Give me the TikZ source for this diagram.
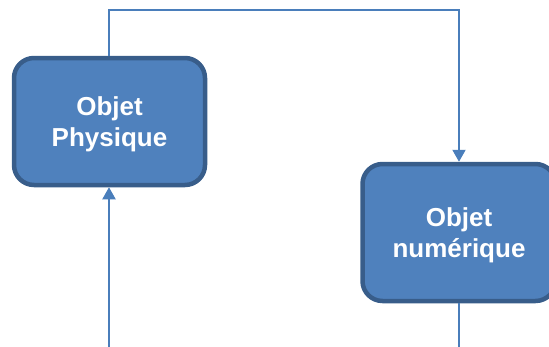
\documentclass[tikz,border=0pt]{standalone}
\usepackage{fontspec}
\setmainfont{Liberation Sans}
\usetikzlibrary{arrows.meta}
\definecolor{boxfill}{HTML}{4F81BD}
\definecolor{boxline}{HTML}{385D8A}
\definecolor{conn}{HTML}{4A7EBB}
\newcommand{\boxtext}[2]{\raisebox{-3pt}[\height][\depth]{\begin{tabular}{@{}c@{}}#1\\#2\end{tabular}}}
\begin{document}
\begin{tikzpicture}[x=1pt,y=-1pt,
  objbox/.style={draw=boxline, fill=boxfill, line width=4.5pt, rounded corners=20pt,
    text=white, font=\bfseries\fontsize{26}{31}\selectfont, align=center, inner sep=0pt},
  link/.style={draw=conn, line width=2pt},
  tip/.style={-{Triangle[width=13pt,length=12pt]}}]
\useasboundingbox (0,0) rectangle (549,346);
\clip (0,0) rectangle (549,346);
\node[objbox, minimum width=191pt, minimum height=127pt] (phys) at (109.5,121.5) {\boxtext{Objet}{Physique}};
\node[objbox, minimum width=193pt, minimum height=137pt] (num) at (459,232.5) {\boxtext{Objet}{numérique}};
\coordinate (bl) at (109,350);
\coordinate (br) at (459,350);
\draw[link, tip] (phys.north -| bl) |- (459,10) -- (num.north);
\draw[link] (num.south) -- (br);
\draw[link, tip] (bl) -- (phys.south -| bl);
\end{tikzpicture}
\end{document}
